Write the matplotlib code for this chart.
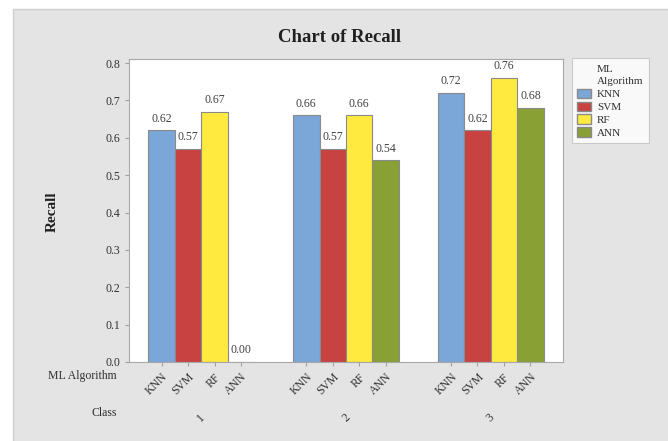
import matplotlib
matplotlib.use("Agg")
import matplotlib.pyplot as plt
from matplotlib.patches import Rectangle, Patch
import numpy as np

classes = ["1", "2", "3"]
algorithms = ["KNN", "SVM", "RF", "ANN"]
recall = {
    "KNN": [0.62, 0.66, 0.72],
    "SVM": [0.57, 0.57, 0.62],
    "RF": [0.67, 0.66, 0.76],
    "ANN": [0.00, 0.54, 0.68],
}
colors = {"KNN": "#7ba6d8", "SVM": "#c94242", "RF": "#ffeb3f", "ANN": "#88a034"}

plt.rcParams["font.family"] = ["Liberation Serif", "DejaVu Serif"]

W, H = 668, 441
fig = plt.figure(figsize=(W / 100, H / 100), dpi=100, facecolor="white")

# grey panel behind everything
fig.patches.append(Rectangle((13 / W, -0.01), 1.0, 1 - 9 / H + 0.01, transform=fig.transFigure,
                             facecolor="#e4e4e4", edgecolor="#cfcfcf", lw=1, zorder=-10))

ax = fig.add_axes([129 / W, 1 - 362 / H, 434 / W, 303 / H])
ax.set_facecolor("white")

width = 0.183
x = np.arange(len(classes))
for i, alg in enumerate(algorithms):
    pos = x + (i - 1.5) * width
    ax.bar(pos, recall[alg], width, color=colors[alg], edgecolor="#8a8a8a", linewidth=0.8, label=alg)
    for p, v in zip(pos, recall[alg]):
        ax.annotate(f"{v:.2f}", (p, v), xytext=(0, 4), textcoords="offset points",
                    ha="center", va="bottom", fontsize=8.5, color="#404040")

ax.set_xlim(-0.5, 2.5)
ax.set_ylim(0, 0.811)
ax.set_yticks(np.arange(0, 0.81, 0.1))
ax.set_yticklabels([f"{t:.1f}" for t in np.arange(0, 0.81, 0.1)], fontsize=8.5, color="#303030")

xt = np.concatenate([x + (i - 1.5) * width for i in range(4)])
xl = [a for a in algorithms for _ in classes]
ax.set_xticks(xt)
ax.set_xticklabels(xl, rotation=45, ha="right", rotation_mode="anchor", fontsize=8.5, color="#303030")
ax.tick_params(axis="both", colors="#a0a0a0", labelcolor="#303030", length=3, width=0.8)
for s in ax.spines.values():
    s.set_color("#a8a8a8")
    s.set_linewidth(0.8)

# class numbers on the second label row
trans = matplotlib.transforms.blended_transform_factory(ax.transData, fig.transFigure)
for c, xc in zip(classes, x):
    ax.text(xc, 1 - 418 / H, c, rotation=45, ha="center", va="center", fontsize=8.5,
            color="#303030", transform=trans)

fig.text(117 / W, 1 - 376 / H, "ML Algorithm", ha="right", va="center", fontsize=8.5, color="#303030")
fig.text(117 / W, 1 - 413 / H, "Class", ha="right", va="center", fontsize=8.5, color="#303030")
fig.text(52 / W, 1 - 212 / H, "Recall", rotation=90, ha="center", va="center",
         fontsize=11, fontweight="bold", color="#202020")
fig.text(340 / W, 1 - 37 / H, "Chart of Recall", ha="center", va="center",
         fontsize=13.5, fontweight="bold", color="#202020")

# legend title written as two blank-handle rows so it lines up with the labels
blank = Patch(facecolor="none", edgecolor="none")
handles = [blank, blank] + [Patch(facecolor=colors[a], edgecolor="#8a8a8a") for a in algorithms]
labels = ["ML", "Algorithm"] + algorithms
leg = fig.legend(handles, labels, loc="upper left",
                 bbox_to_anchor=(572 / W, 1 - 58 / H), prop={"size": 8},
                 frameon=True, fancybox=False, edgecolor="#c0c0c0", handlelength=1.3,
                 handleheight=0.95, handletextpad=0.5, labelspacing=0.2, borderpad=0.45,
                 borderaxespad=0)
leg.get_frame().set_linewidth(0.8)
for t in leg.get_texts():
    t.set_color("#303030")

fig.savefig("out.png", dpi=100, facecolor=fig.get_facecolor())
